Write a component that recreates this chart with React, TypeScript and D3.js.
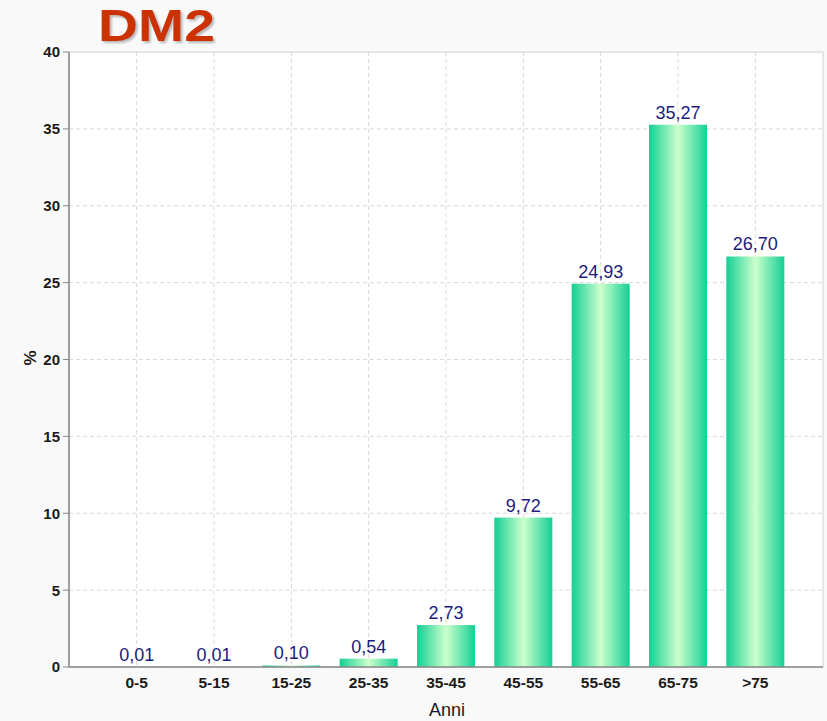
import React from "react";
import * as d3 from "d3";

const categories = ["0-5", "5-15", "15-25", "25-35", "35-45", "45-55", "55-65", "65-75", ">75"];
const values = [0.01, 0.01, 0.1, 0.54, 2.73, 9.72, 24.93, 35.27, 26.7];
const yTicks = [0, 5, 10, 15, 20, 25, 30, 35, 40];
const labels = ["0,01", "0,01", "0,10", "0,54", "2,73", "9,72", "24,93", "35,27", "26,70"];

const W = 827;
const H = 721;
const left = 69;
const right = 823;
const top = 52;
const bottom = 667;

export default function App() {
  const x = d3.scaleBand<string>().domain(categories).range([left, right]).paddingInner(0.25).paddingOuter(0.5);
  const y = d3.scaleLinear().domain([0, 40]).range([bottom, top]);
  const font = "Arial, 'Liberation Sans', sans-serif";
  return (
    <svg width={W} height={H} style={{ position: "absolute", left: 0, top: 0 }}>
      <defs>
        <linearGradient id="barGrad" x1="0" x2="1" y1="0" y2="0">
          <stop offset="0" stopColor="#14cf95" />
          <stop offset="0.5" stopColor="#ccffcc" />
          <stop offset="1" stopColor="#14cf95" />
        </linearGradient>
        <filter id="shadow" x="-5%" y="-5%" width="115%" height="115%">
          <feDropShadow dx="2" dy="2" stdDeviation="1" floodColor="#888" floodOpacity="0.6" />
        </filter>
      </defs>
      <rect x={0} y={0} width={W} height={H} fill="#f9f9f9" />
      <rect x={left} y={top} width={right - left} height={bottom - top} fill="#ffffff" stroke="#d0d0d0" strokeWidth={1} />
      {yTicks.map((t) => (
        <g key={t}>
          {t > 0 && t < 40 && (
            <line x1={left} x2={right} y1={y(t)} y2={y(t)} stroke="#d8d8d8" strokeDasharray="4,3" />
          )}
          <line x1={left - 6} x2={left} y1={y(t)} y2={y(t)} stroke="#888" />
          <text x={left - 9} y={y(t)} dy="0.36em" textAnchor="end" fontFamily={font} fontWeight="bold" fontSize={15} fill="#1a1a1a">
            {t}
          </text>
        </g>
      ))}
      {categories.map((c) => (
        <line key={c} x1={x(c)! + x.bandwidth() / 2} x2={x(c)! + x.bandwidth() / 2} y1={top} y2={bottom} stroke="#d8d8d8" strokeDasharray="4,3" />
      ))}
      {categories.map((c, i) => (
        <g key={c}>
          <rect x={x(c)} y={y(values[i])} width={x.bandwidth()} height={bottom - y(values[i])} fill="url(#barGrad)" />
          <text x={x(c)! + x.bandwidth() / 2} y={y(values[i]) - 6} textAnchor="middle" fontFamily={font} fontSize={18} fill="#1c1c80">
            {labels[i]}
          </text>
          <text x={x(c)! + x.bandwidth() / 2} y={bottom + 21} textAnchor="middle" fontFamily={font} fontWeight="bold" fontSize={15.5} fill="#1a1a1a">
            {c}
          </text>
        </g>
      ))}
      <line x1={left} x2={left} y1={top} y2={bottom} stroke="#888" strokeWidth={1.5} />
      <line x1={left} x2={right} y1={bottom} y2={bottom} stroke="#888" strokeWidth={1.5} />
      <text x={447} y={716} textAnchor="middle" fontFamily={font} fontSize={18} fill="#1a1a1a">Anni</text>
      <text transform={`translate(36,358) rotate(-90)`} textAnchor="middle" fontFamily={font} fontWeight="bold" fontSize={17} fill="#1a1a1a">%</text>
      <text x={98} y={41} fontFamily={font} fontWeight="bold" fontSize={45} fill="#cc3300" textLength={117} lengthAdjust="spacingAndGlyphs" filter="url(#shadow)">DM2</text>
    </svg>
  );
}
